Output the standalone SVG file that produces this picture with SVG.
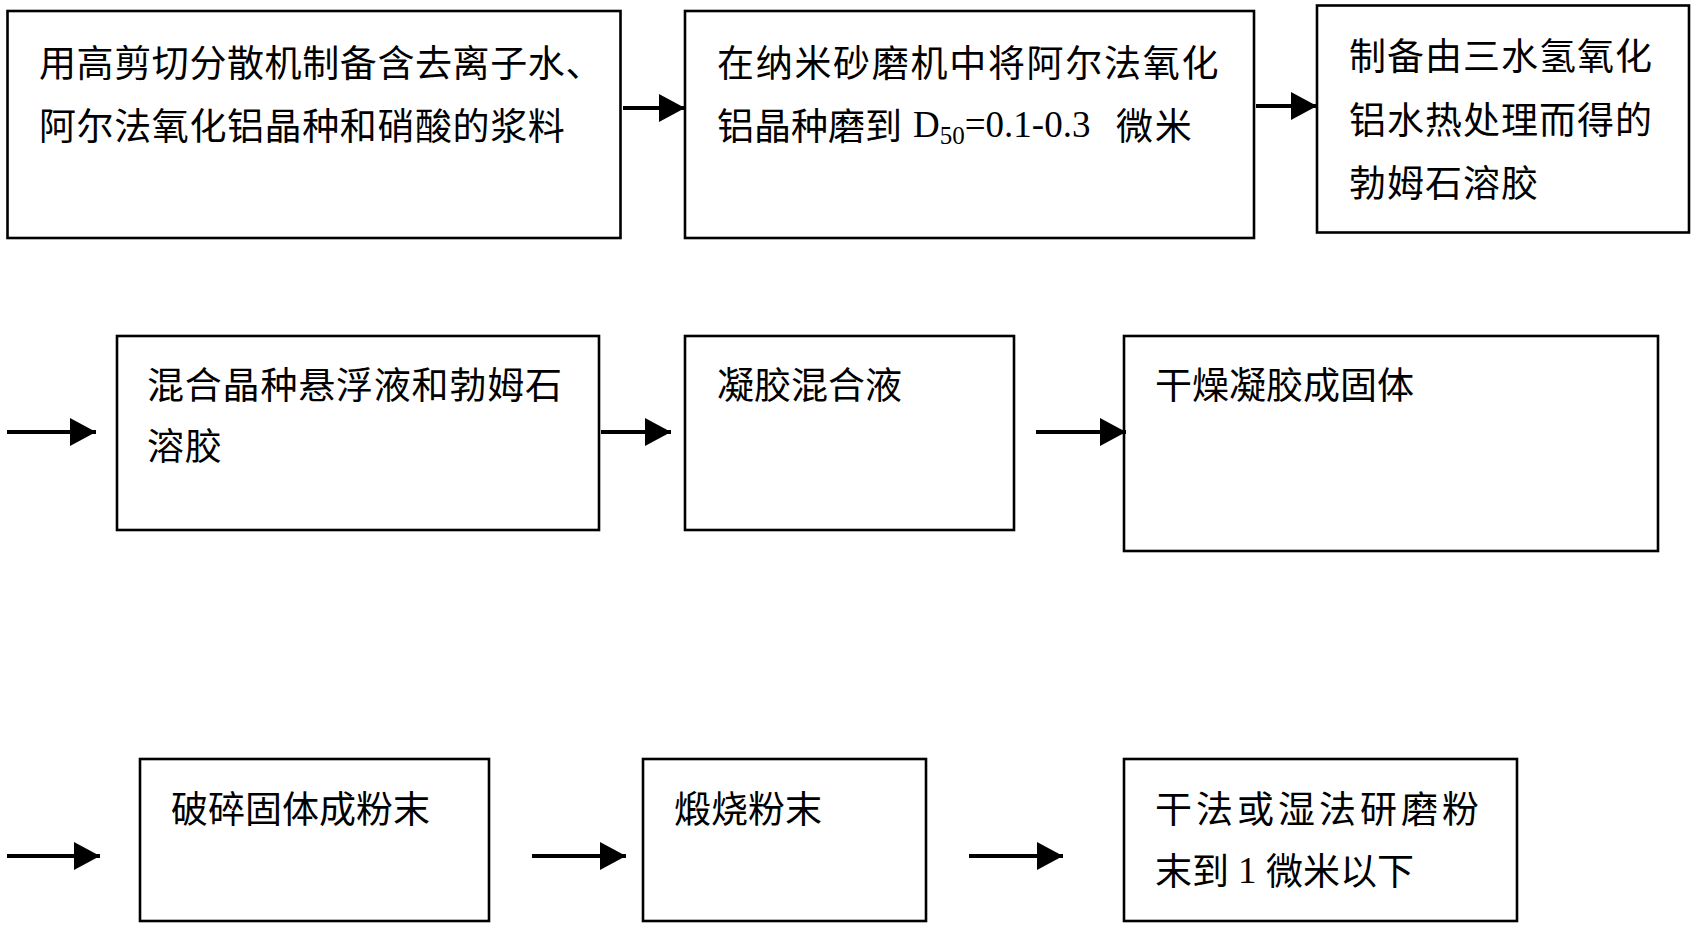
<svg xmlns="http://www.w3.org/2000/svg" width="1695" height="927" viewBox="0 0 1695 927">
<style>
.box{fill:#fff;stroke:#000;stroke-width:2.6}
.t{font-family:"Noto Sans CJK SC","Liberation Serif",sans-serif;font-size:37px;fill:#000}
.lat{font-family:"Liberation Serif",serif;font-size:37px;fill:#000}
.c{stroke:#000;stroke-width:3.8;fill:none}
</style>
<defs>
<marker id="ah" markerUnits="userSpaceOnUse" markerWidth="27" markerHeight="28" refX="26" refY="14" orient="auto">
<path d="M0,0 L26,14 L0,28 z" fill="#000"/>
</marker>
</defs>
<rect width="1695" height="927" fill="#fff"/>
<g id="n1"><rect class="box" x="7.5" y="11" width="613" height="227"/>
<text class="t" x="39" y="77" letter-spacing="0.6">用高剪切分散机制备含去离子水、</text>
<text class="t" x="39" y="140" letter-spacing="0.6">阿尔法氧化铝晶种和硝酸的浆料</text></g>
<g id="n2"><rect class="box" x="685" y="11" width="569" height="227"/>
<text class="t" x="717" y="77" letter-spacing="1.7">在纳米砂磨机中将阿尔法氧化</text>
<text class="t" x="717" y="140">铝晶种磨到</text>
<text class="lat" x="913" y="137">D<tspan font-size="25" dy="7">50</tspan><tspan dy="-7">=0.1-0.3</tspan></text>
<text class="t" x="1116" y="140" letter-spacing="1.7">微米</text></g>
<g id="n3"><rect class="box" x="1317" y="5.5" width="372" height="227"/>
<text class="t" x="1349" y="70" letter-spacing="1">制备由三水氢氧化</text>
<text class="t" x="1349" y="134" letter-spacing="1">铝水热处理而得的</text>
<text class="t" x="1349" y="197" letter-spacing="1">勃姆石溶胶</text></g>
<g id="n4"><rect class="box" x="117" y="336" width="482" height="194"/>
<text class="t" x="147" y="399" letter-spacing="0.8">混合晶种悬浮液和勃姆石</text>
<text class="t" x="147" y="460" letter-spacing="0.8">溶胶</text></g>
<g id="n5"><rect class="box" x="685" y="336" width="329" height="194"/>
<text class="t" x="717" y="399">凝胶混合液</text></g>
<g id="n6"><rect class="box" x="1124" y="336" width="534" height="215"/>
<text class="t" x="1155" y="399">干燥凝胶成固体</text></g>
<g id="n7"><rect class="box" x="140" y="759" width="349" height="162"/>
<text class="t" x="171" y="823">破碎固体成粉末</text></g>
<g id="n8"><rect class="box" x="643" y="759" width="283" height="162"/>
<text class="t" x="674" y="823">煅烧粉末</text></g>
<g id="n9"><rect class="box" x="1124" y="759" width="393" height="162"/>
<text class="t" x="1155" y="823" letter-spacing="4">干法或湿法研磨粉</text>
<text class="t" x="1155" y="885">末到</text>
<text class="lat" x="1238" y="883">1</text>
<text class="t" x="1266" y="885">微米以下</text></g>
<g id="connectors">
<line class="c" x1="623" y1="108" x2="685" y2="108" marker-end="url(#ah)"/>
<line class="c" x1="1256" y1="106" x2="1317" y2="106" marker-end="url(#ah)"/>
<line class="c" x1="7" y1="432" x2="96" y2="432" marker-end="url(#ah)"/>
<line class="c" x1="601" y1="432" x2="671" y2="432" marker-end="url(#ah)"/>
<line class="c" x1="1036" y1="432" x2="1126" y2="432" marker-end="url(#ah)"/>
<line class="c" x1="7" y1="856" x2="100" y2="856" marker-end="url(#ah)"/>
<line class="c" x1="532" y1="856" x2="626" y2="856" marker-end="url(#ah)"/>
<line class="c" x1="969" y1="856" x2="1063" y2="856" marker-end="url(#ah)"/>
</g>
</svg>
